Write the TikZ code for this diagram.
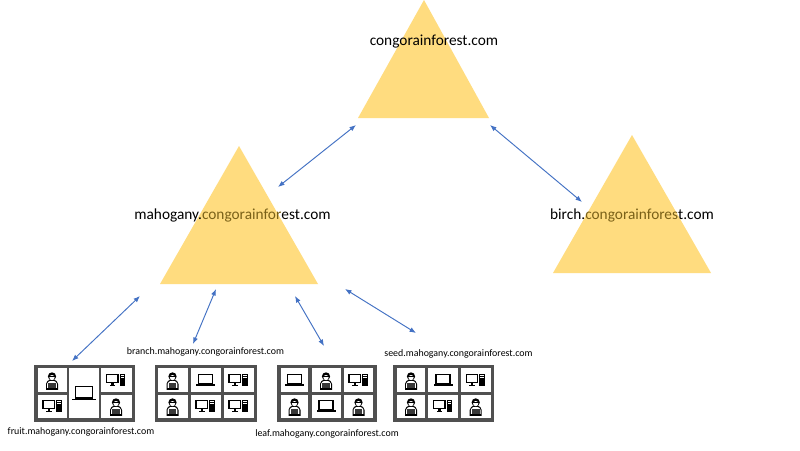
\documentclass[tikz,border=0pt]{standalone}
\usepackage{fontspec}
\setmainfont{Carlito}
\usetikzlibrary{arrows.meta}
\definecolor{tri}{HTML}{FFDC7F}
\definecolor{link}{HTML}{4472C4}
\definecolor{frame}{HTML}{505050}
\definecolor{over}{HTML}{7A6118}
\tikzset{
  x=1pt,y=-1pt,
  triangle/.style={fill=tri,draw=none},
  link arrow/.style={draw=link,line width=0.95pt,{Latex[length=6.5pt,width=5pt]}-{Latex[length=6.5pt,width=5pt]}},
  big label/.style={inner sep=0pt,text=black,font=\fontsize{15.35}{17}\selectfont},
  small label/.style={inner sep=0pt,text=black,font=\fontsize{9.92}{12}\selectfont},
  panel/.style={fill=frame,draw=none,inner sep=0pt},
  cell/.style={fill=white,draw=none},
  person/.pic={
    \fill[black] (-6,8.8) -- (-6,3) .. controls (-6,0.5) and (-3.5,-0.8) .. (-2.5,-1.2) -- (2.5,-1.2) .. controls (3.5,-0.8) and (6,0.5) .. (6,3) -- (6,8.8) -- cycle;
    \fill[white] (-4.9,7.7) -- (-4.9,3) .. controls (-4.9,1.2) and (-3,0.3) .. (-2,0) -- (2,0) .. controls (3,0.3) and (4.9,1.2) .. (4.9,3) -- (4.9,7.7) -- cycle;
    \fill[black] (0,-4.6) circle (4.1);
    \fill[white] (0,-3.4) circle (2.6);
    \fill[black] (-3.6,-5.2) rectangle (3.6,-4.2);
    \fill[frame!70!black] (-3.9,2.4) rectangle (3.9,7.6);
    \fill[black] (-5.4,7.2) rectangle (5.4,8.8);
  },
  desktop/.pic={
    \draw[black,line width=1.3pt] (-9.5,-5.8) rectangle (2,2.7);
    \fill[black] (-5,2.7) rectangle (-2.5,4.8);
    \fill[black] (-6.5,4.6) rectangle (-1,5.8);
    \fill[black] (3.7,-6.5) rectangle (9.3,6);
    \fill[white] (4.6,-4.6) rectangle (8.4,-4);
    \fill[white] (4.6,-2.8) rectangle (8.4,-2.2);
  },
  laptop/.pic={
    \draw[black,line width=1.2pt] (-7,-5.5) rectangle (7,4);
    \fill[black] (-9.5,4.4) rectangle (9.5,5.8);
  }
}
\begin{document}
\begin{tikzpicture}
\useasboundingbox (0,0) rectangle (800,450);
\fill[white] (0,0) rectangle (800,450);
% triangles
\fill[triangle] (424,0) -- (489,118) -- (358,118) -- cycle;
\fill[triangle] (239,146) -- (318,284) -- (160,284) -- cycle;
\fill[triangle] (632,135) -- (711,273) -- (553,273) -- cycle;
% connector ends
\coordinate (rootL) at (356,125);
\coordinate (rootR) at (490,125);
\coordinate (mahT) at (278,187);
\coordinate (birT) at (582,202);
\coordinate (mahA) at (140,296);
\coordinate (mahB) at (216,289);
\coordinate (mahC) at (295,296);
\coordinate (mahD) at (345,289);
\coordinate (fruitT) at (72,361);
\coordinate (branchT) at (193,344);
\coordinate (leafT) at (324,346);
\coordinate (seedT) at (416,333);
\draw[link arrow] (rootL) -- (mahT);
\draw[link arrow] (rootR) -- (birT);
\draw[link arrow] (mahA) -- (fruitT);
\draw[link arrow] (mahB) -- (branchT);
\draw[link arrow] (mahC) -- (leafT);
\draw[link arrow] (mahD) -- (seedT);
% labels
\node[big label] (root) at (434,41.5) {congorainforest.com};
\node[big label] (mah) at (232.5,215) {mahogany.\textcolor{over}{congorainfor}est.com};
\node[big label] (bir) at (632,215) {birch.\textcolor{over}{congorainfores}t.com};
\node[small label] (branch) at (205.5,351.5) {branch.mahogany.congorainforest.com};
\node[small label] (seed) at (458.5,353.5) {seed.mahogany.congorainforest.com};
\node[small label] (fruit) at (81,431.5) {fruit.mahogany.congorainforest.com};
\node[small label] (leaf) at (327,433.5) {leaf.mahogany.congorainforest.com};
% panel 1
\fill[panel] (34,365) rectangle (135,421.5);
\fill[cell] (37.7,368) rectangle (66.7,392);
\fill[cell] (37.7,395) rectangle (66.7,418);
\fill[cell] (68.7,368) rectangle (99,418);
\fill[cell] (101,368) rectangle (131.7,392);
\fill[cell] (101,395) rectangle (131.7,418);
\pic at (52,381) {person};
\pic at (52.5,406) {desktop};
\pic[scale=1.25] at (84,393) {laptop};
\pic at (116,380) {desktop};
\pic at (116,407) {person};
% panel 2
\fill[panel] (155,365) rectangle (257,421.5);
\fill[cell] (158.3,368) rectangle (187.5,392);
\fill[cell] (158.3,395) rectangle (187.5,418);
\fill[cell] (190.5,368) rectangle (220.5,392);
\fill[cell] (190.5,395) rectangle (220.5,418);
\fill[cell] (223.5,368) rectangle (253.5,392);
\fill[cell] (223.5,395) rectangle (253.5,418);
\pic at (172.5,381) {person};
\pic at (172.5,407) {person};
\pic at (205.5,380) {laptop};
\pic at (205.5,406) {desktop};
\pic at (238.5,380) {desktop};
\pic at (238.5,406) {desktop};
% panel 3
\fill[panel] (277,365) rectangle (377,422);
\fill[cell] (280.7,368) rectangle (308,392);
\fill[cell] (280.7,395) rectangle (308,418);
\fill[cell] (311.7,368) rectangle (341,392);
\fill[cell] (311.7,395) rectangle (341,418);
\fill[cell] (344,368) rectangle (373,392);
\fill[cell] (344,395) rectangle (373,418);
\pic at (294.5,380) {laptop};
\pic at (294.5,407) {person};
\pic at (326,381) {person};
\pic at (326,406) {laptop};
\pic at (358.5,380) {desktop};
\pic at (358.5,407) {person};
% panel 4
\fill[panel] (393,365) rectangle (494,422);
\fill[cell] (396.7,368) rectangle (425,392);
\fill[cell] (396.7,395) rectangle (425,418);
\fill[cell] (428,368) rectangle (458,392);
\fill[cell] (428,395) rectangle (458,418);
\fill[cell] (460.7,368) rectangle (490.7,392);
\fill[cell] (460.7,395) rectangle (490.7,418);
\pic at (411,381) {person};
\pic at (411,407) {person};
\pic at (443,380) {laptop};
\pic at (443,406) {desktop};
\pic at (475.7,380) {desktop};
\pic at (475.7,407) {person};
\end{tikzpicture}
\end{document}
